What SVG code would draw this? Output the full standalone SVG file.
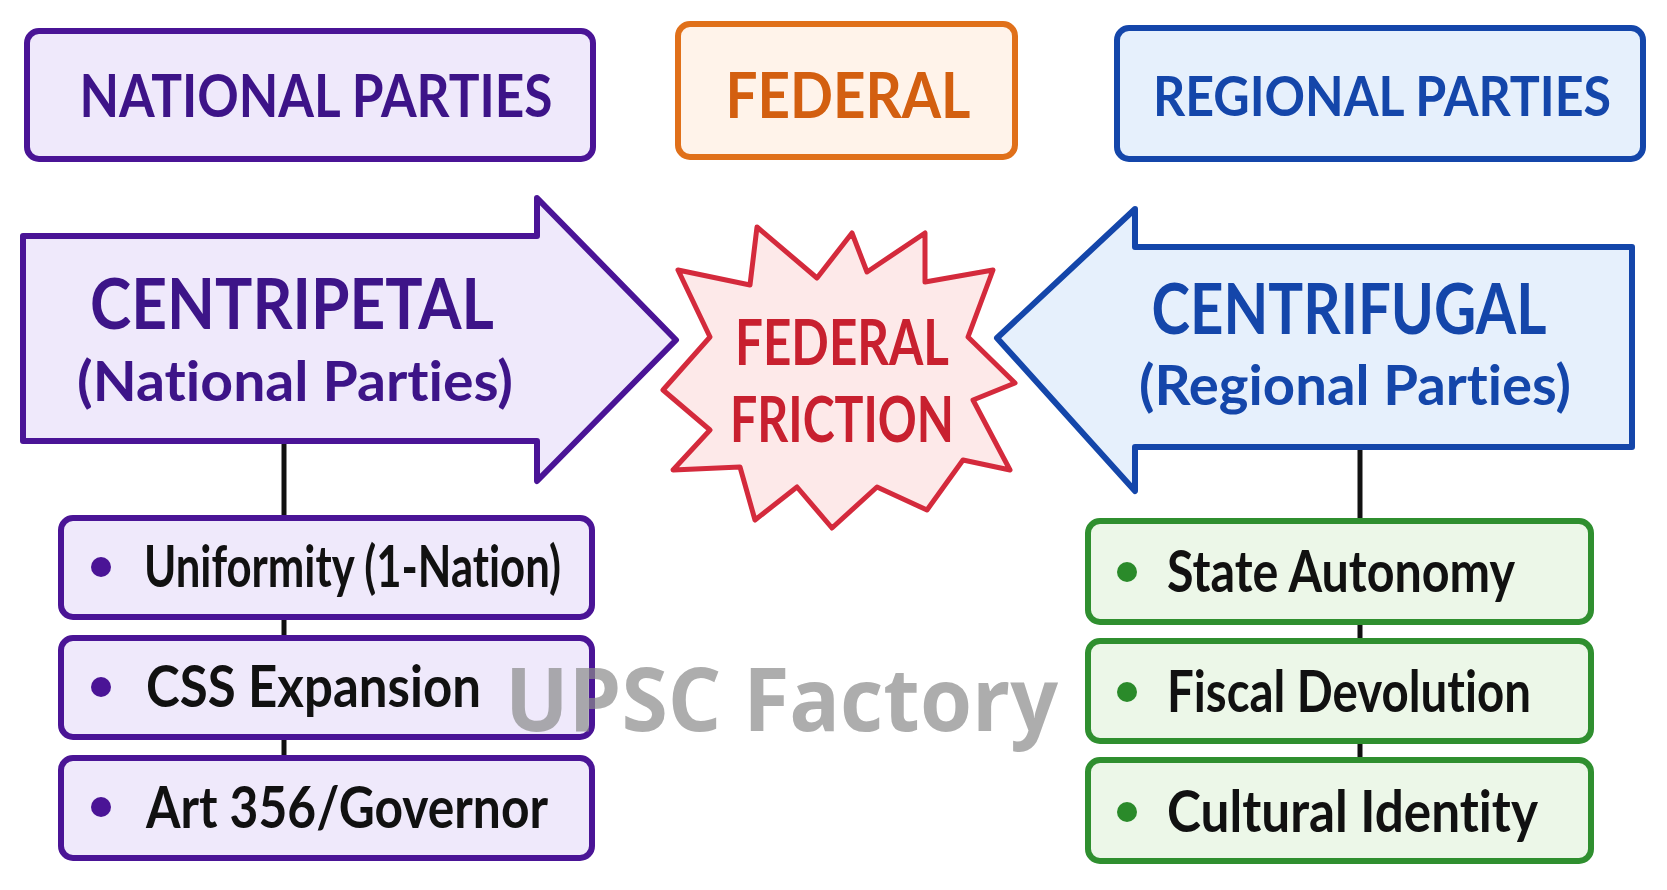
<svg xmlns="http://www.w3.org/2000/svg" width="1667" height="890" viewBox="0 0 1667 890">
<style>
.t{font-family:Lato,"Open Sans","Liberation Sans",sans-serif;font-weight:700;font-variant-ligatures:none}
.wm{font-family:"Open Sans","Liberation Sans",sans-serif;font-weight:700}
.pur{fill:#efe9fb;stroke:#4a1496;stroke-width:6;stroke-linejoin:round}
.org{fill:#fff3ea;stroke:#e0701a;stroke-width:6;stroke-linejoin:round}
.blu{fill:#e6f0fc;stroke:#1446aa;stroke-width:6;stroke-linejoin:round}
.red{fill:#fde9e9;stroke:#d42a3c;stroke-width:5;stroke-linejoin:round}
.grn{fill:#ecf7e8;stroke:#2f8f2f;stroke-width:6;stroke-linejoin:round}
.conn{stroke:#111;stroke-width:5;fill:none}
.item{font-size:58px;fill:#111}
</style>
<rect width="1667" height="890" fill="#ffffff"/>
<g id="connectors">
<line class="conn" x1="284" y1="441" x2="284" y2="520"/>
<line class="conn" x1="284" y1="617" x2="284" y2="640"/>
<line class="conn" x1="284" y1="737" x2="284" y2="760"/>
<line class="conn" x1="1360" y1="447" x2="1360" y2="523"/>
<line class="conn" x1="1360" y1="622" x2="1360" y2="643"/>
<line class="conn" x1="1360" y1="741" x2="1360" y2="762"/>
</g>
<g id="national-parties">
<rect class="pur" x="27" y="31" width="566" height="128" rx="12"/>
<text class="t" x="316" y="117" font-size="60" fill="#3d1488" text-anchor="middle" textLength="473" lengthAdjust="spacingAndGlyphs">NATIONAL PARTIES</text>
</g>
<g id="federal">
<rect class="org" x="678" y="24" width="337" height="133" rx="12"/>
<text class="t" x="848" y="118" font-size="64" fill="#d35f10" text-anchor="middle" textLength="245" lengthAdjust="spacingAndGlyphs">FEDERAL</text>
</g>
<g id="regional-parties">
<rect class="blu" x="1117" y="28" width="526" height="131" rx="12"/>
<text class="t" x="1382" y="116" font-size="56" fill="#1446aa" text-anchor="middle" textLength="458" lengthAdjust="spacingAndGlyphs">REGIONAL PARTIES</text>
</g>
<g id="centripetal">
<path class="pur" d="M23,236 L537,236 L537,198 L676,340 L537,481 L537,441 L23,441 Z"/>
<text class="t" x="292" y="329" font-size="70" fill="#3d1488" text-anchor="middle" textLength="404" lengthAdjust="spacingAndGlyphs">CENTRIPETAL</text>
<text class="t" x="295" y="401" font-size="56" fill="#3d1488" text-anchor="middle" textLength="436" lengthAdjust="spacingAndGlyphs">(National Parties)</text>
</g>
<g id="centrifugal">
<path class="blu" d="M1632,247 L1135,247 L1135,209 L997,338 L1135,491 L1135,447 L1632,447 Z"/>
<text class="t" x="1349" y="334" font-size="70" fill="#1446aa" text-anchor="middle" textLength="395" lengthAdjust="spacingAndGlyphs">CENTRIFUGAL</text>
<text class="t" x="1355" y="405" font-size="56" fill="#1446aa" text-anchor="middle" textLength="432" lengthAdjust="spacingAndGlyphs">(Regional Parties)</text>
</g>
<g id="federal-friction">
<path class="red" d="M678,270 L750,285 L757,227 L817,278 L852,233 L867,272 L925,233 L925,282 L993,270 L968,337 L1015,383 L973,400 L1010,470 L963,460 L927,510 L877,487 L832,528 L797,487 L755,520 L740,467 L673,470 L710,430 L663,390 L710,337 Z"/>
<text class="t" x="842" y="365" font-size="64" fill="#c8202f" text-anchor="middle" textLength="214" lengthAdjust="spacingAndGlyphs">FEDERAL</text>
<text class="t" x="842" y="442" font-size="64" fill="#c8202f" text-anchor="middle" textLength="224" lengthAdjust="spacingAndGlyphs">FRICTION</text>
</g>
<g id="item-uniformity">
<rect class="pur" x="61" y="518" width="531" height="99" rx="12"/>
<circle cx="101" cy="567" r="10" fill="#4a1496"/>
<text class="t item" x="144" y="587" textLength="417" lengthAdjust="spacingAndGlyphs">Uniformity (1-Nation)</text>
</g>
<g id="item-css">
<rect class="pur" x="61" y="638" width="531" height="99" rx="12"/>
<circle cx="101" cy="687" r="10" fill="#4a1496"/>
<text class="t item" x="146" y="707" textLength="335" lengthAdjust="spacingAndGlyphs">CSS Expansion</text>
</g>
<g id="item-art356">
<rect class="pur" x="61" y="758" width="531" height="100" rx="12"/>
<circle cx="101" cy="807" r="10" fill="#4a1496"/>
<text class="t item" x="146" y="828" textLength="402" lengthAdjust="spacingAndGlyphs">Art 356/Governor</text>
</g>
<g id="item-state-autonomy">
<rect class="grn" x="1088" y="521" width="503" height="101" rx="12"/>
<circle cx="1127" cy="572" r="10" fill="#2a8a2a"/>
<text class="t item" x="1167" y="592" textLength="348" lengthAdjust="spacingAndGlyphs">State Autonomy</text>
</g>
<g id="item-fiscal">
<rect class="grn" x="1088" y="641" width="503" height="100" rx="12"/>
<circle cx="1127" cy="692" r="10" fill="#2a8a2a"/>
<text class="t item" x="1167" y="712" textLength="364" lengthAdjust="spacingAndGlyphs">Fiscal Devolution</text>
</g>
<g id="item-cultural">
<rect class="grn" x="1088" y="760" width="503" height="101" rx="12"/>
<circle cx="1127" cy="812" r="10" fill="#2a8a2a"/>
<text class="t item" x="1167" y="832" textLength="371" lengthAdjust="spacingAndGlyphs">Cultural Identity</text>
</g>
<text class="wm" x="505" y="731" font-size="88" fill="#8a8a8a" fill-opacity="0.7" textLength="553" lengthAdjust="spacingAndGlyphs">UPSC Factory</text>
</svg>
